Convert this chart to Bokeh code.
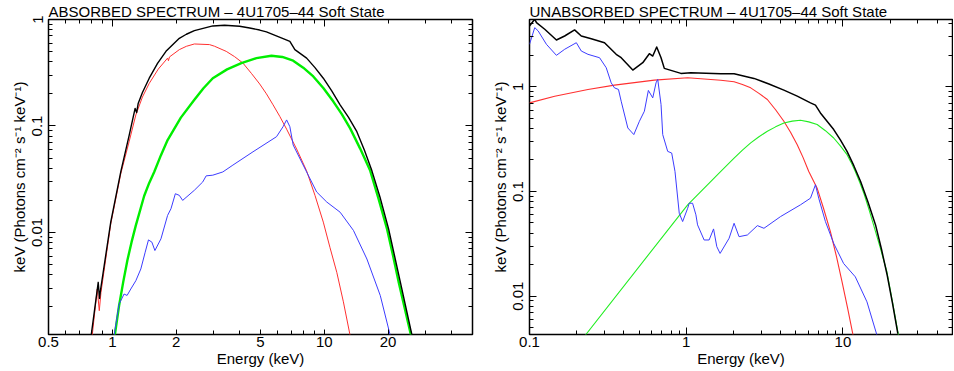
from bokeh.plotting import figure
from bokeh.layouts import row
from bokeh.models import LogAxis, FixedTicker, CustomJSTickFormatter
from bokeh.embed import file_html
from bokeh.resources import INLINE

FONT = "Liberation Sans"

# ---------------- data: ABSORBED spectrum ----------------
abs_total_E = [0.795, 0.858, 0.870, 0.881, 0.983, 1.096, 1.20, 1.281, 1.302, 1.324, 1.387, 1.493,
               1.634, 1.791, 1.857, 2.07, 2.235, 2.438, 2.978, 3.383, 3.985, 4.445, 4.956, 5.333,
               6.393, 6.877, 7.262, 8.252, 9.035, 9.89, 10.84, 11.87, 12.99, 14.24, 15.46, 16.77,
               18.39, 20.1, 22.85, 25.95]
abs_total_F = [0.00108, 0.0034, 0.0024, 0.00294, 0.0125, 0.037, 0.081, 0.1463, 0.1335, 0.1623, 0.206, 0.281,
               0.387, 0.502, 0.540, 0.666, 0.727, 0.787, 0.870, 0.884, 0.865, 0.833, 0.796, 0.764,
               0.662, 0.624, 0.521, 0.434, 0.3532, 0.281, 0.2139, 0.158, 0.121, 0.0883, 0.0591, 0.0379,
               0.0208, 0.0108, 0.0034, 0.00107]

abs_red_E = [0.804, 0.849, 0.868, 0.884, 0.983, 1.096, 1.20, 1.291, 1.387, 1.493, 1.647, 1.823,
             1.84, 1.86, 2.07, 2.235, 2.438, 2.873, 3.034, 3.446, 3.774, 4.13, 4.528, 4.956,
             5.333, 5.73, 6.166, 6.64, 7.401, 8.25, 9.035, 9.89, 10.64, 11.45, 12.30, 13.24]
abs_red_F = [0.00108, 0.00294, 0.00184, 0.00273, 0.012, 0.0355, 0.0711, 0.127, 0.187, 0.251, 0.342, 0.434,
             0.41, 0.445, 0.521, 0.56, 0.589, 0.581, 0.561, 0.502, 0.4477, 0.390, 0.312, 0.248,
             0.2003, 0.158, 0.1229, 0.0933, 0.0608, 0.0379, 0.0223, 0.0125, 0.00719, 0.00422, 0.00223, 0.00107]

abs_green_E = [1.027, 1.076, 1.126, 1.178, 1.233, 1.291, 1.413, 1.493, 1.576, 1.696, 1.823, 2.105,
               2.438, 2.691, 2.978, 3.477, 4.06, 4.782, 5.63, 6.337, 7.13, 7.953, 8.87, 9.89,
               11.03, 12.09, 13.24, 14.76, 16.47, 18.03, 19.76, 21.05, 22.43, 25.67]
abs_green_F = [0.00108, 0.00205, 0.00343, 0.00548, 0.00815, 0.01164, 0.022, 0.0292, 0.037, 0.0532, 0.0738, 0.1198,
               0.176, 0.226, 0.281, 0.34, 0.390, 0.4333, 0.457, 0.4446, 0.410, 0.3525, 0.292, 0.2273,
               0.1695, 0.129, 0.0949, 0.0613, 0.0379, 0.0207, 0.0108, 0.00617, 0.0034, 0.00107]

abs_blue_E = [1.019, 1.076, 1.136, 1.174, 1.222, 1.291, 1.363, 1.429, 1.481, 1.537, 1.588, 1.696,
              1.823, 1.891, 1.983, 2.07, 2.147, 2.438, 2.670, 2.771, 2.978, 3.321, 3.704, 4.608,
              5.95, 6.39, 6.64, 6.877, 7.13, 8.25, 9.20, 10.27, 11.87, 13.72, 15.88, 18.37, 20.48]
abs_blue_F = [0.00107, 0.00212, 0.00264, 0.00256, 0.00294, 0.00352, 0.00454, 0.00652, 0.00851, 0.0081, 0.00676, 0.00871,
              0.01446, 0.0167, 0.0231, 0.0223, 0.020, 0.0249, 0.0298, 0.034, 0.0345, 0.037, 0.0429, 0.0572,
              0.0793, 0.0985, 0.114, 0.0985, 0.0662, 0.037, 0.024, 0.0193, 0.0155, 0.01045, 0.00563, 0.00255, 0.00107]

# ---------------- data: UNABSORBED spectrum ----------------
unabs_total_E = [0.1, 0.108, 0.1108, 0.1251, 0.1485, 0.1676, 0.194, 0.214, 0.2478, 0.301, 0.3573,
                 0.3846, 0.456, 0.528, 0.5817, 0.6115, 0.648, 0.6907, 0.7247, 0.925, 1.071, 1.662,
                 2.02, 2.706, 3.371, 4.198, 5.108, 6.207, 6.677, 7.18, 8.73, 9.627, 10.62, 11.73,
                 12.96, 14.46, 16.14, 17.60, 19.15, 20.70, 22.4]
unabs_total_F = [3.82, 4.43, 4.11, 3.55, 2.80, 3.06, 3.50, 3.06, 2.885, 2.64, 2.045,
                 1.897, 1.446, 1.70, 2.072, 1.97, 2.40, 1.897, 1.501, 1.344, 1.362, 1.332,
                 1.332, 1.204, 1.066, 0.930, 0.814, 0.7025, 0.668, 0.563, 0.3905, 0.311, 0.2417, 0.1764,
                 0.1247, 0.0788, 0.0479, 0.0282, 0.0159, 0.00857, 0.00438]

unabs_red_E = [0.1, 0.1448, 0.236, 0.3485, 0.626, 1.021, 1.24, 1.662, 2.02, 2.284, 2.578, 2.911,
               3.293, 3.717, 4.198, 4.63, 5.108, 5.561, 6.053, 6.845, 7.54, 8.317, 9.08, 9.87,
               10.70, 11.6]
unabs_red_F = [0.7025, 0.814, 0.944, 1.038, 1.159, 1.22, 1.193, 1.155, 1.117, 1.052, 0.978, 0.866,
               0.757, 0.6044, 0.469, 0.3679, 0.280, 0.2118, 0.1555, 0.1075, 0.068, 0.0413, 0.02407, 0.0137,
               0.00772, 0.00423]

unabs_green_E = [0.227, 1.021, 1.662, 2.02, 2.284, 2.578, 2.911, 3.293, 3.717, 4.198, 4.747, 5.36,
                 6.053, 6.845, 7.73, 8.73, 9.627, 10.62, 11.27, 11.99, 12.81, 13.68, 14.65, 15.68,
                 17.29, 19.07, 20.76, 22.6]
unabs_green_F = [0.00423, 0.0746, 0.1555, 0.2086, 0.2483, 0.2917, 0.3339, 0.376, 0.4145, 0.4516, 0.47, 0.4795,
                 0.4628, 0.436, 0.381, 0.3245, 0.2731, 0.2248, 0.1897, 0.1555, 0.122, 0.0936, 0.0675, 0.0479,
                 0.02904, 0.0171, 0.00863, 0.00423]

unabs_blue_E = [0.1, 0.108, 0.1136, 0.1282, 0.1485, 0.1676, 0.199, 0.214, 0.236, 0.28, 0.3088, 0.332,
                0.3485, 0.3696, 0.3846, 0.424, 0.463, 0.5027, 0.5408, 0.5734, 0.6115, 0.6418, 0.658,
                0.6907, 0.708, 0.7616, 0.8078, 0.8479, 0.9027, 0.9486, 1.021, 1.045, 1.098, 1.153,
                1.181, 1.301, 1.40, 1.494, 1.567, 1.645, 1.877, 2.02, 2.173, 2.456, 2.844, 3.133,
                4.0, 5.36, 6.207, 6.677, 7.006, 7.73, 8.73, 10.1, 11.99, 14.23, 16.48]
unabs_blue_F = [2.55, 3.68, 3.42, 2.55, 2.0, 2.284, 2.64, 2.199, 2.045, 1.897, 1.521, 1.092,
                0.978, 0.944, 0.729, 0.4045, 0.3497, 0.469, 0.585, 0.924, 0.784, 1.092, 1.178,
                0.678, 0.3497, 0.2417, 0.233, 0.1555, 0.0619, 0.0516, 0.0691, 0.0772, 0.0772, 0.0598,
                0.048, 0.0344, 0.0344, 0.0439, 0.0297, 0.0256, 0.0357, 0.0497, 0.037, 0.0384, 0.0472, 0.0445,
                0.0576, 0.0746, 0.0863, 0.116, 0.0863, 0.0516, 0.0319, 0.0205, 0.0153, 0.00882, 0.00423]

# ---------------- axis ticks ----------------
abs_x_labels = [0.5, 1, 2, 5, 10, 20]
abs_x_minor_bottom = [0.6, 0.7, 0.8, 0.9, 3, 4, 6, 7, 8, 9, 30, 40, 50]
abs_x_major_top = [1, 10]
abs_x_minor_top = [0.5, 0.6, 0.7, 0.8, 0.9, 2, 3, 4, 5, 6, 7, 8, 9, 20, 30, 40, 50]
abs_y_major = [0.01, 0.1, 1]
abs_y_minor = [0.002, 0.003, 0.004, 0.005, 0.006, 0.007, 0.008, 0.009,
               0.02, 0.03, 0.04, 0.05, 0.06, 0.07, 0.08, 0.09,
               0.2, 0.3, 0.4, 0.5, 0.6, 0.7, 0.8, 0.9]
unabs_x_major = [0.1, 1, 10]
unabs_x_minor = [0.2, 0.3, 0.4, 0.5, 0.6, 0.7, 0.8, 0.9, 2, 3, 4, 5, 6, 7, 8, 9, 20, 30, 40, 50]
unabs_y_major = [0.01, 0.1, 1]
unabs_y_minor = [0.005, 0.006, 0.007, 0.008, 0.009,
                 0.02, 0.03, 0.04, 0.05, 0.06, 0.07, 0.08, 0.09,
                 0.2, 0.3, 0.4, 0.5, 0.6, 0.7, 0.8, 0.9, 2, 3, 4]

X_LABEL = "Energy (keV)"
Y_LABEL = "keV (Photons cm\u207b\u00b2 s\u207b\u00b9 keV\u207b\u00b9)"
TITLE_ABS = "ABSORBED SPECTRUM \u2013 4U1705\u201344 Soft State"
TITLE_UNABS = "UNABSORBED SPECTRUM \u2013 4U1705\u201344 Soft State"

LABEL_FMT = CustomJSTickFormatter(code="return tick.toString();")
BLANK_FMT = CustomJSTickFormatter(code="return '';")
FS = "15px"


def style_axis(ax, major_in=7, labels=True):
    ax.axis_line_color = None
    ax.major_tick_in = major_in
    ax.major_tick_out = 0
    ax.minor_tick_in = 4
    ax.minor_tick_out = 0
    ax.major_tick_line_color = "black"
    ax.minor_tick_line_color = "black"
    ax.major_tick_line_width = 1
    ax.minor_tick_line_width = 1
    if labels:
        ax.formatter = LABEL_FMT
        ax.major_label_text_font = FONT
        ax.major_label_text_font_size = FS
        ax.major_label_text_color = "black"
        ax.axis_label_text_font = FONT
        ax.axis_label_text_font_size = FS
        ax.axis_label_text_font_style = "normal"
        ax.axis_label_text_color = "black"
    else:
        ax.formatter = BLANK_FMT
        ax.major_label_text_font_size = "0px"
        ax.major_label_standoff = 0


def make_fig(title, xr, yr, width, left, right):
    p = figure(width=width, height=370, x_axis_type="log", y_axis_type="log",
               x_range=xr, y_range=yr, output_backend="svg", toolbar_location=None,
               min_border_left=left, min_border_right=right,
               min_border_top=18, min_border_bottom=36)
    p.title.text = title
    p.title.text_font = FONT
    p.title.text_font_size = FS
    p.title.text_font_style = "normal"
    p.title.text_color = "black"
    p.title.align = "left"
    p.title.offset = 0
    p.title.standoff = 0
    p.xgrid.visible = False
    p.ygrid.visible = False
    p.outline_line_color = "black"
    p.outline_line_width = 1.5
    p.outline_line_alpha = 1.0
    p.background_fill_color = "white"
    p.border_fill_color = "white"
    return p


def finish_axes(p, xb_major, xb_minor, xt_major, xt_minor, y_major, y_minor, xb_in):
    xb = p.xaxis[0]
    xb.ticker = FixedTicker(ticks=xb_major, minor_ticks=xb_minor)
    style_axis(xb, major_in=xb_in)
    xb.axis_label = X_LABEL
    xb.major_label_standoff = 2
    xb.axis_label_standoff = 0
    yl = p.yaxis[0]
    yl.ticker = FixedTicker(ticks=y_major, minor_ticks=y_minor)
    style_axis(yl)
    yl.axis_label = Y_LABEL
    yl.major_label_orientation = "vertical"
    yl.major_label_standoff = 6
    yl.axis_label_standoff = 2
    top = LogAxis(ticker=FixedTicker(ticks=xt_major, minor_ticks=xt_minor))
    style_axis(top, labels=False)
    p.add_layout(top, "above")
    rgt = LogAxis(ticker=FixedTicker(ticks=y_major, minor_ticks=y_minor))
    style_axis(rgt, labels=False)
    p.add_layout(rgt, "right")


# ---------------- left: absorbed ----------------
p1 = make_fig(TITLE_ABS, (0.5, 50), (0.0011, 1), 477, 48, 5)
finish_axes(p1, abs_x_labels, abs_x_minor_bottom, abs_x_major_top, abs_x_minor_top,
            abs_y_major, abs_y_minor, 5)
p1.line(abs_red_E, abs_red_F, line_color="#ff3030", line_width=1, line_join="round")
p1.line(abs_green_E, abs_green_F, line_color="#00ee00", line_width=2.4, line_join="round")
p1.line(abs_blue_E, abs_blue_F, line_color="#3c3cff", line_width=1, line_join="round")
p1.line(abs_total_E, abs_total_F, line_color="black", line_width=1.4, line_join="round")

# ---------------- right: unabsorbed ----------------
p2 = make_fig(TITLE_UNABS, (0.1, 50), (0.0043, 4.4), 476, 52, 1)
finish_axes(p2, unabs_x_major, unabs_x_minor, unabs_x_major, unabs_x_minor,
            unabs_y_major, unabs_y_minor, 7)
p2.line(unabs_red_E, unabs_red_F, line_color="#ff3030", line_width=1.1, line_join="round")
p2.line(unabs_green_E, unabs_green_F, line_color="#22ee22", line_width=1.1, line_join="round")
p2.line(unabs_blue_E, unabs_blue_F, line_color="#3c3cff", line_width=1, line_join="round")
p2.line(unabs_total_E, unabs_total_F, line_color="black", line_width=1.5, line_join="round")

layout = row(p1, p2)
open("out.html", "w").write(file_html(layout, INLINE))
